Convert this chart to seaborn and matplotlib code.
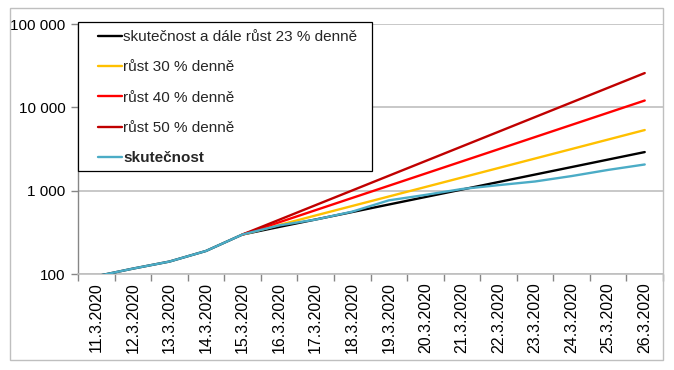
import numpy as np
import pandas as pd
import matplotlib
matplotlib.use('Agg')
import matplotlib.pyplot as plt
from matplotlib.patches import Rectangle
from matplotlib.ticker import FixedLocator, FuncFormatter, NullLocator
import seaborn as sns

# ─── Data ────────────────────────────────────────────────────────────────────
dates = ['11.3.2020', '12.3.2020', '13.3.2020', '14.3.2020', '15.3.2020',
         '16.3.2020', '17.3.2020', '18.3.2020', '19.3.2020', '20.3.2020',
         '21.3.2020', '22.3.2020', '23.3.2020', '24.3.2020', '25.3.2020',
         '26.3.2020']

actual    = [94, 116, 141, 189, 298, 383, 450, 560, 765, 889,
             1047, 1165, 1289, 1497, 1775, 2062]
growth_23 = [94, 116, 141, 189, 298, 367, 451, 554, 682, 839,
             1032, 1269, 1561, 1920, 2362, 2905]
growth_30 = [np.nan, np.nan, np.nan, np.nan, 298, 387, 504, 655, 851, 1106,
             1438, 1870, 2431, 3160, 4108, 5341]
growth_40 = [np.nan, np.nan, np.nan, np.nan, 298, 417, 584, 818, 1145, 1603,
             2244, 3141, 4398, 6157, 8620, 12068]
growth_50 = [np.nan, np.nan, np.nan, np.nan, 298, 447, 671, 1006, 1509, 2263,
             3395, 5092, 7638, 11457, 17186, 25779]

labels = ['skutečnost a dále růst 23 % denně', 'růst 30 % denně',
          'růst 40 % denně', 'růst 50 % denně', 'skutečnost']
colors = ['#000000', '#FFC000', '#FF0000', '#C00000', '#4BACC6']

y_ticks = [100, 1000, 10000, 100000]

# ─── Long table for seaborn ──────────────────────────────────────────────────
idx = np.arange(len(dates))
frames = []
for lab, vals in zip(labels, [growth_23, growth_30, growth_40, growth_50, actual]):
    frames.append(pd.DataFrame({'den': idx, 'pocet': vals, 'serie': lab}))
df = pd.concat(frames, ignore_index=True).dropna()

# ─── Style ───────────────────────────────────────────────────────────────────
sns.set_style('white')
plt.rcParams['font.family'] = ['Liberation Sans', 'DejaVu Sans']
plt.rcParams['font.size'] = 11

GRID = '#BFBFBF'
AXIS = '#868686'

fig = plt.figure(figsize=(6.74, 3.70), dpi=100)
ax = fig.add_axes([78 / 674, 1 - 274 / 370, 585 / 674, 250 / 370])

sns.lineplot(data=df, x='den', y='pocet', hue='serie', hue_order=labels,
             palette=colors, linewidth=1.7, legend=False, ax=ax, zorder=3)

# ─── Axes ────────────────────────────────────────────────────────────────────
ax.set_yscale('log')
ax.set_ylim(100, 100000)
ax.set_xlim(-0.5, len(dates) - 0.5)
ax.set_xlabel('')
ax.set_ylabel('')

ax.yaxis.set_major_locator(FixedLocator(y_ticks))
ax.yaxis.set_minor_locator(NullLocator())
ax.yaxis.set_major_formatter(FuncFormatter(lambda v, p: f'{int(v):,}'.replace(',', ' ')))
ax.tick_params(axis='y', which='major', left=True, length=5, width=1,
               color=AXIS, pad=4, labelsize=11, labelcolor='black')

ax.set_xticks(idx)
ax.set_xticklabels(dates, rotation=90, va='top', ha='center')
ax.xaxis.set_minor_locator(FixedLocator(np.arange(-0.5, len(dates), 1.0)))
ax.tick_params(axis='x', which='major', bottom=True, length=0, pad=6,
               labelsize=11.5, labelcolor='black')
ax.tick_params(axis='x', which='minor', bottom=True, length=5, width=1,
               color=AXIS)

ax.grid(axis='y', which='major', color=GRID, linewidth=1.2)
ax.grid(axis='x', visible=False)
ax.set_axisbelow(True)

for side in ['top', 'right']:
    ax.spines[side].set_visible(False)
ax.spines['left'].set_color(AXIS)
ax.spines['bottom'].set_color(GRID)
ax.spines['left'].set_linewidth(1)
ax.spines['bottom'].set_linewidth(1.2)

# ─── Legend (box drawn separately to get Excel-like padding) ─────────────────
ax.add_patch(Rectangle((78 / 674, 1 - 171 / 370), 294 / 674, 149 / 370,
                       transform=fig.transFigure, facecolor='white',
                       edgecolor='black', linewidth=0.9, clip_on=False,
                       zorder=4))
leg = ax.legend(handles=ax.get_lines()[:len(labels)], labels=labels,
                loc='upper left', bbox_to_anchor=(98 / 674, 1 - 30 / 370),
                bbox_transform=fig.transFigure, frameon=False,
                borderpad=0, borderaxespad=0, handlelength=1.6,
                handletextpad=0.05, labelspacing=1.07, fontsize=11)
leg.set_zorder(5)
leg.get_texts()[-1].set_fontweight('bold')

# ─── Outer chart border ──────────────────────────────────────────────────────
fig.add_artist(Rectangle((10 / 674, 1 - 360 / 370), 653 / 674, 352 / 370,
                         transform=fig.transFigure, facecolor='none',
                         edgecolor=GRID, linewidth=1))

fig.savefig('out.png', dpi=100)
